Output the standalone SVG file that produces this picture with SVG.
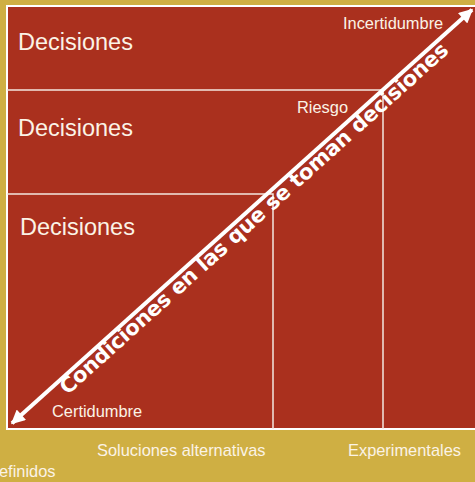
<svg xmlns="http://www.w3.org/2000/svg" width="475" height="482" viewBox="0 0 475 482">
  <style>
    .lbl { font-family: "Liberation Sans", Arial, sans-serif; fill: #FBF3E6; }
    .dec { font-size: 23.5px; }
    .sm { font-size: 16.4px; }
    .grid { stroke: #F3E6E0; stroke-width: 1.5; fill: none; }
    .diag { font-family: "DejaVu Sans", Verdana, sans-serif; font-weight: bold; font-size: 21px; fill: #FFFFFF; }
  </style>
  <defs>
    <marker id="ah" viewBox="0 0 10 10" refX="9" refY="5" markerWidth="16" markerHeight="14" markerUnits="userSpaceOnUse" orient="auto-start-reverse">
      <path d="M0,0 L10,5 L0,10 Z" fill="#FFFFFF"/>
    </marker>
  </defs>
  <rect x="0" y="0" width="475" height="482" fill="#CFAF43"/>
  <g id="frame">
    <rect x="7" y="6" width="480" height="423" fill="#AA301E" stroke="#FFFFFF" stroke-width="2"/>
  </g>
  <g id="region-incertidumbre">
    <text class="lbl dec" x="18" y="50">Decisiones</text>
    <text class="lbl sm" x="343" y="29">Incertidumbre</text>
  </g>
  <g id="region-riesgo">
    <path class="grid" d="M7,90 H383 V429"/>
    <text class="lbl dec" x="18" y="136">Decisiones</text>
    <text class="lbl sm" x="297" y="113">Riesgo</text>
  </g>
  <g id="region-certidumbre">
    <path class="grid" d="M7,194 H273 V429"/>
    <text class="lbl dec" x="20" y="235">Decisiones</text>
    <text class="lbl sm" x="52" y="417">Certidumbre</text>
  </g>
  <g id="connectors">
    <line x1="12" y1="423.2" x2="472" y2="9.8" stroke="#FFFFFF" stroke-width="4" marker-start="url(#ah)" marker-end="url(#ah)"/>
  </g>
  <g id="axis-title">
    <text class="diag" x="67.5" y="395.5" textLength="514" lengthAdjust="spacing" transform="rotate(-41.94 67.5 395.5)">Condiciones en las que se toman decisiones</text>
  </g>
  <g id="x-labels">
    <text class="lbl sm" x="97" y="456">Soluciones alternativas</text>
    <text class="lbl sm" x="348" y="456">Experimentales</text>
    <text class="lbl sm" x="-1" y="477">efinidos</text>
  </g>
</svg>
